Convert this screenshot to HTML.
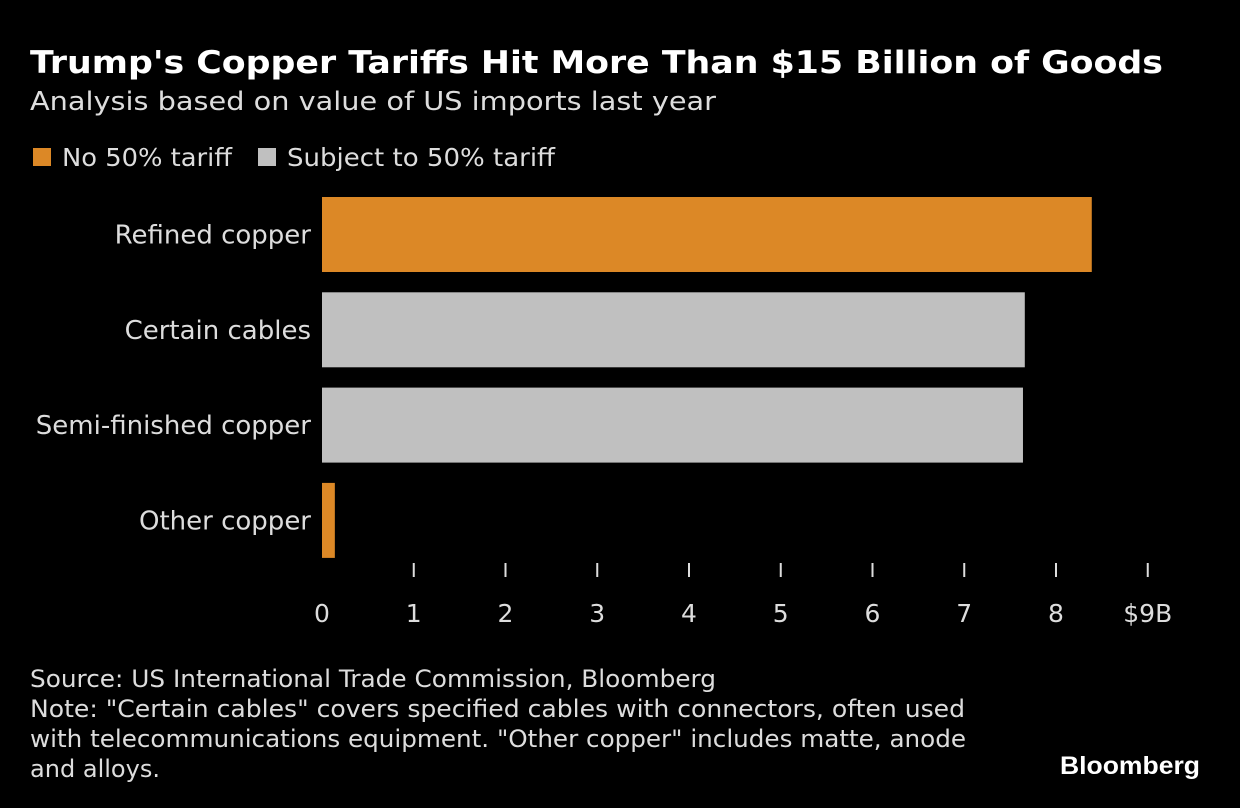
<!DOCTYPE html>
<html><head><meta charset="utf-8"><style>
html,body{margin:0;padding:0;background:#000;}
svg{display:block;font-family:"DejaVu Sans","Liberation Sans",sans-serif;}
</style></head><body>
<svg id="chart" width="1240" height="808" viewBox="0 0 1240 808">
<rect width="1240" height="808" fill="#000"/>
<text x="30" y="73" fill="#fff" font-size="31" font-weight="bold" textLength="1133" lengthAdjust="spacingAndGlyphs">Trump's Copper Tariffs Hit More Than $15 Billion of Goods</text>
<text x="30" y="110" fill="#ddd" font-size="26" textLength="686" lengthAdjust="spacingAndGlyphs">Analysis based on value of US imports last year</text>
<g>
<rect x="33" y="148" width="18" height="18" fill="#dc8826"/>
<text x="62" y="166" fill="#ddd" font-size="25" textLength="170" lengthAdjust="spacingAndGlyphs">No 50% tariff</text>
<rect x="258" y="148" width="18" height="18" fill="#c0c0c0"/>
<text x="287" y="166" fill="#ddd" font-size="25" textLength="268" lengthAdjust="spacingAndGlyphs">Subject to 50% tariff</text>
</g>
<g id="plot"></g>
<g fill="#ddd" font-size="24">
<text x="30" y="687" textLength="686" lengthAdjust="spacingAndGlyphs">Source: US International Trade Commission, Bloomberg</text>
<text x="30" y="717" textLength="935" lengthAdjust="spacingAndGlyphs">Note: "Certain cables" covers specified cables with connectors, often used</text>
<text x="30" y="747" textLength="936" lengthAdjust="spacingAndGlyphs">with telecommunications equipment. "Other copper" includes matte, anode</text>
<text x="30" y="777" textLength="130" lengthAdjust="spacingAndGlyphs">and alloys.</text>
</g>
<text x="1060" y="774" fill="#fff" font-size="25" font-weight="bold" textLength="140" lengthAdjust="spacingAndGlyphs" font-family="Liberation Sans, sans-serif">Bloomberg</text>
</svg>
<script>
const categories = ["Refined copper","Certain cables","Semi-finished copper","Other copper"];
const values = [8.39, 7.66, 7.64, 0.14];
const tariffed = [false, true, true, false];
const tickValues = [0,1,2,3,4,5,6,7,8,9];
const tickLabels = ["0","1","2","3","4","5","6","7","8","$9B"];

const x0 = 322, pxPerUnit = 91.75;
function xScale(v){ return x0 + v * pxPerUnit; }
function yBand(i){ return 197 + i * 95.3; }
const bandH = 75;
const NS = "http://www.w3.org/2000/svg";
const plot = document.getElementById("plot");

categories.forEach((c, i) => {
  const r = document.createElementNS(NS, "rect");
  r.setAttribute("x", xScale(0));
  r.setAttribute("y", yBand(i));
  r.setAttribute("width", xScale(values[i]) - xScale(0));
  r.setAttribute("height", bandH);
  r.setAttribute("fill", tariffed[i] ? "#c0c0c0" : "#dc8826");
  
  
  plot.appendChild(r);
  const t = document.createElementNS(NS, "text");
  t.setAttribute("x", 311);
  t.setAttribute("y", yBand(i) + bandH / 2 + 9);
  t.setAttribute("text-anchor", "end");
  t.setAttribute("fill", "#ddd");
  t.setAttribute("font-size", "26");
  t.textContent = c;
  
  
  plot.appendChild(t);
});

tickValues.forEach((v, i) => {
  const x = xScale(v);
  if (v !== 0) {
    const l = document.createElementNS(NS, "line");
    l.setAttribute("x1", x); l.setAttribute("x2", x);
    l.setAttribute("y1", 563); l.setAttribute("y2", 577);
    l.setAttribute("stroke", "#ddd"); l.setAttribute("stroke-width", "2");
    
    
    plot.appendChild(l);
  }
  const t = document.createElementNS(NS, "text");
  t.setAttribute("x", x);
  t.setAttribute("y", 622);
  t.setAttribute("text-anchor", "middle");
  t.setAttribute("fill", "#ddd");
  t.setAttribute("font-size", "25");
  t.textContent = tickLabels[i];
  
  
  plot.appendChild(t);
});
</script>
</body></html>
